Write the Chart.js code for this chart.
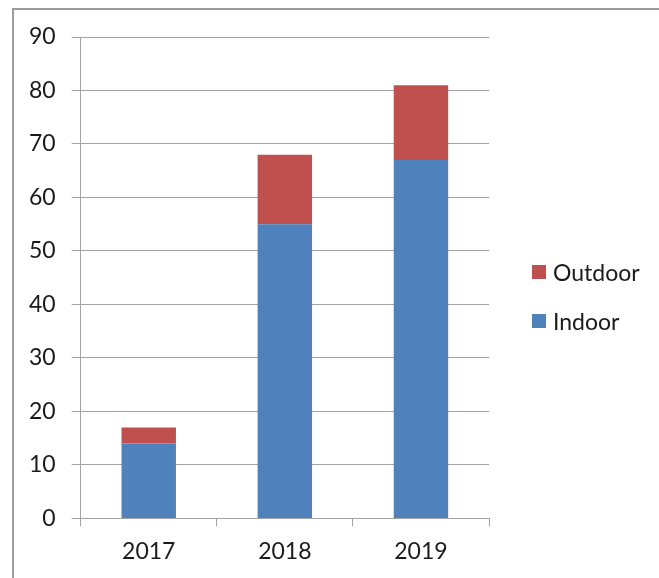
<!DOCTYPE html>
<html>
<head>
<meta charset="utf-8">
<script src="https://cdn.jsdelivr.net/npm/chart.js@4.4.1/dist/chart.umd.min.js"></script>
<style>
    html, body { margin: 0; padding: 0; background: #fff; }
    #wrap { position: relative; width: 659px; height: 578px; overflow: hidden; }
    #frame {
        position: absolute; left: 12px; top: 8px; width: 700px; height: 600px;
        border-left: 2px solid #9c9c9c; border-top: 2px solid #9c9c9c;
        pointer-events: none;
    }
    #legend { position: absolute; left: 532px; top: 0; font-family: Lato, sans-serif; font-size: 23px; color: #1a1a1a; }
    .item { position: absolute; left: 0; display: flex; align-items: center; white-space: nowrap; height: 30px; }
    .box { width: 14px; height: 14px; margin-right: 7px; }
</style>
</head>
<body>
<div id="wrap">
    <canvas id="myChart" width="659" height="578"></canvas>
    <div id="frame"></div>
    <div id="legend"></div>
</div>
<script>
// datos
var years = ["2017", "2018", "2019"];
var indoor = [14, 55, 67];
var outdoor = [3, 13, 14];
var yTicks = [0, 10, 20, 30, 40, 50, 60, 70, 80, 90];

var gridColor = "#a3a3a3";
var tickFont = { family: "Lato", size: 23 };

var ctx = document.getElementById("myChart").getContext("2d");
var chart = new Chart(ctx, {
    type: "bar",
    data: {
        labels: years,
        datasets: [
            { label: "Indoor", data: indoor, backgroundColor: "#4F81BD" },
            { label: "Outdoor", data: outdoor, backgroundColor: "#C0504D" }
        ]
    },
    options: {
        responsive: false,
        animation: false,
        layout: { padding: { top: 37, left: 13, right: 170, bottom: 2 } },
        plugins: { legend: { display: false }, tooltip: { enabled: false } },
        datasets: { bar: { barPercentage: 0.4, categoryPercentage: 1 } },
        scales: {
            x: {
                stacked: true,
                grid: { offset: true, drawOnChartArea: false, color: gridColor, tickLength: 8 },
                border: { color: gridColor },
                ticks: { font: tickFont, color: "#1a1a1a", padding: 11 }
            },
            y: {
                stacked: true,
                min: yTicks[0],
                max: yTicks[yTicks.length - 1],
                afterBuildTicks: function (axis) {
                    axis.ticks = yTicks.map(function (v) { return { value: v }; });
                },
                grid: { color: gridColor, tickLength: 9 },
                border: { color: gridColor },
                ticks: { font: tickFont, color: "#1a1a1a", padding: 16 }
            }
        }
    }
});

// leyenda en HTML, Outdoor arriba
var legend = document.getElementById("legend");
var tops = [257, 306];
chart.data.datasets.slice().reverse().forEach(function (ds, i) {
    var item = document.createElement("div");
    item.className = "item";
    item.style.top = tops[i] + "px";
    item.innerHTML = '<span class="box" style="background:' + ds.backgroundColor + '"></span>' + ds.label;
    legend.appendChild(item);
});
</script>
</body>
</html>
